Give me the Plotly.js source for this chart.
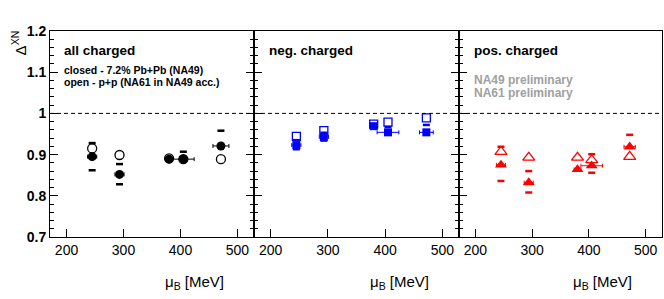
<!DOCTYPE html>
<html><head><meta charset="utf-8">
<script src="https://cdn.plot.ly/plotly-3.0.1.min.js"></script>
<style>body{margin:0;background:#fff}#c{width:664px;height:299px}</style>
</head><body><div id="c"></div>
<script>
// ---- data ----
const muB_all = [245, 293, 380, 405, 471];
const xerr_all = [8, 8, 6, 19, 14];
const pbpb_all = [0.895, 0.852, 0.889, 0.889, 0.921];
const pbpb_all_sysHi = [0.928, 0.877, null, 0.907, 0.958];
const pbpb_all_sysLo = [0.862, 0.828, null, null, null];
const pp_all = [0.915, 0.899, 0.891, 0.889, 0.889];

const muB_neg = [245, 293, 380, 405, 472];
const xerr_neg = [8, 8, 6, 19, 12];
const pbpb_neg = [0.923, 0.943, 0.969, 0.954, 0.954];
const pbpb_neg_sysHi = [0.935, 0.953, null, 0.967, 0.972];
const pbpb_neg_sysLo = [0.913, 0.934, null, null, null];
const pp_neg = [0.944, 0.958, 0.974, 0.979, 0.989];

const muB_pos = [245, 294, 380, 405, 472];
const xerr_pos = [8, 8, 6, 19, 10];
const pbpb_pos = [0.875, 0.832, 0.864, 0.873, 0.919];
const pbpb_pos_sysHi = [0.919, 0.860, null, 0.901, 0.948];
const pbpb_pos_sysLo = [0.836, 0.808, null, 0.856, null];
const pp_pos = [0.907, 0.893, 0.893, 0.887, 0.895];

const xTicks = [200, 300, 400, 500];
const yTicks = [0.7, 0.8, 0.9, 1, 1.1, 1.2];
const yTickText = ['0.7', '0.8', '0.9', '1', '1.1', '1.2'];

// ---- traces ----
const panels = [
  {x: muB_all, xe: xerr_all, y: pbpb_all, hi: pbpb_all_sysHi, lo: pbpb_all_sysLo, pp: pp_all,
   color: '#000000', fsym: 'circle', osym: 'circle-open', fs: 9, os: 9},
  {x: muB_neg, xe: xerr_neg, y: pbpb_neg, hi: pbpb_neg_sysHi, lo: pbpb_neg_sysLo, pp: pp_neg,
   color: '#0000ff', fsym: 'square', osym: 'square-open', fs: 8, os: 8},
  {x: muB_pos, xe: xerr_pos, y: pbpb_pos, hi: pbpb_pos_sysHi, lo: pbpb_pos_sysLo, pp: pp_pos,
   color: '#ff0000', fsym: 'triangle-up', osym: 'triangle-up-open', fs: 10.5, os: 10.5}
];
const data = [];
panels.forEach((p, i) => {
  const xa = i === 0 ? 'x' : 'x' + (i + 1);
  const ya = i === 0 ? 'y' : 'y' + (i + 1);
  data.push({x: p.x, y: p.pp, xaxis: xa, yaxis: ya, type: 'scatter', mode: 'markers',
    marker: {symbol: p.osym, size: p.os, color: p.color, line: {color: p.color, width: 1.3}}});
  data.push({x: p.x, y: p.hi, xaxis: xa, yaxis: ya, type: 'scatter', mode: 'markers',
    marker: {symbol: 'line-ew', size: 5, color: p.color, line: {color: p.color, width: 2.5}}});
  data.push({x: p.x, y: p.lo, xaxis: xa, yaxis: ya, type: 'scatter', mode: 'markers',
    marker: {symbol: 'line-ew', size: 5, color: p.color, line: {color: p.color, width: 2.5}}});
  data.push({x: p.x, y: p.y, xaxis: xa, yaxis: ya, type: 'scatter', mode: 'markers',
    error_x: {type: 'data', array: p.xe, visible: true, color: p.color, thickness: 1, width: 2},
    marker: {symbol: p.fsym, size: p.fs, color: p.color}});
});

// ---- layout ----
const font = 'Liberation Sans, Arial, Helvetica, sans-serif';
const doms = [[0, 0.3333], [0.3333, 0.6683], [0.6683, 1]];
const layout = {
  width: 664, height: 299,
  margin: {l: 50, r: 2, t: 31, b: 62},
  paper_bgcolor: '#fff', plot_bgcolor: '#fff',
  showlegend: false,
  font: {family: font, color: '#000'},
  shapes: [], annotations: []
};
for (let i = 0; i < 3; i++) {
  const s = i === 0 ? '' : String(i + 1);
  layout['xaxis' + s] = {
    domain: doms[i], range: [171, 529], anchor: 'y' + s,
    tickvals: xTicks, ticktext: xTicks.map(String),
    ticks: 'inside', ticklen: 8, tickcolor: '#000', tickwidth: 1,
    showline: true, linecolor: '#000', linewidth: 1, mirror: true,
    showgrid: false, zeroline: false,
    tickfont: {family: font, size: 14, color: '#000'}
  };
  layout['yaxis' + s] = {
    domain: [0, 1], range: [0.7, 1.2], anchor: 'x' + s,
    tickvals: yTicks, ticktext: yTickText, showticklabels: i === 0,
    ticks: 'inside', ticklen: 8, tickcolor: '#000', tickwidth: 1,
    minor: {dtick: 0.02, ticks: 'inside', ticklen: 4, tickcolor: '#000'},
    showline: true, linecolor: '#000', linewidth: 1, mirror: i === 2 ? true : 'ticks',
    showgrid: false, zeroline: false,
    tickfont: {family: font, size: 14, color: '#000', weight: 'bold'}
  };
  layout.shapes.push({type: 'line', xref: 'x' + s + ' domain', yref: 'y' + s, x0: 0, x1: 1, y0: 1, y1: 1,
    line: {color: '#000', width: 1, dash: '4px,3px'}});
  layout.annotations.push({xref: 'paper', yref: 'paper', x: doms[i][1] - 0.046, y: -0.22,
    xanchor: 'right', yanchor: 'middle', showarrow: false,
    text: 'μ<sub>B</sub> [MeV]', font: {family: font, size: 15, color: '#000'}});
}
const ann = (px, py, text, size, color, bold) => layout.annotations.push({
  xref: 'paper', yref: 'paper', x: (px - 50) / 612, y: 1 - (py - 31) / 206,
  xanchor: 'left', yanchor: 'middle', showarrow: false, text: text,
  font: {family: font, size: size, color: color, weight: bold ? 'bold' : 'normal'}});
ann(62, 51, 'all charged', 13.5, '#000', true);
ann(62, 69.5, 'closed - 7.2% Pb+Pb (NA49)', 10.5, '#000', true);
ann(62, 82, 'open - p+p (NA61 in NA49 acc.)', 10.5, '#000', true);
ann(267, 51, 'neg. charged', 13.5, '#000', true);
ann(472, 51, 'pos. charged', 13.5, '#000', true);
ann(472, 80, 'NA49 preliminary', 12, '#a0a0a0', true);
ann(472, 92.5, 'NA61 preliminary', 12, '#a0a0a0', true);
layout.annotations.push({xref: 'paper', yref: 'paper', x: -0.05, y: 1 - (43 - 31) / 206,
  xanchor: 'center', yanchor: 'middle', textangle: -90, showarrow: false,
  text: 'Δ<sup>XN</sup>', font: {family: font, size: 15, color: '#000'}});

Plotly.newPlot('c', data, layout, {staticPlot: true});
</script></body></html>
